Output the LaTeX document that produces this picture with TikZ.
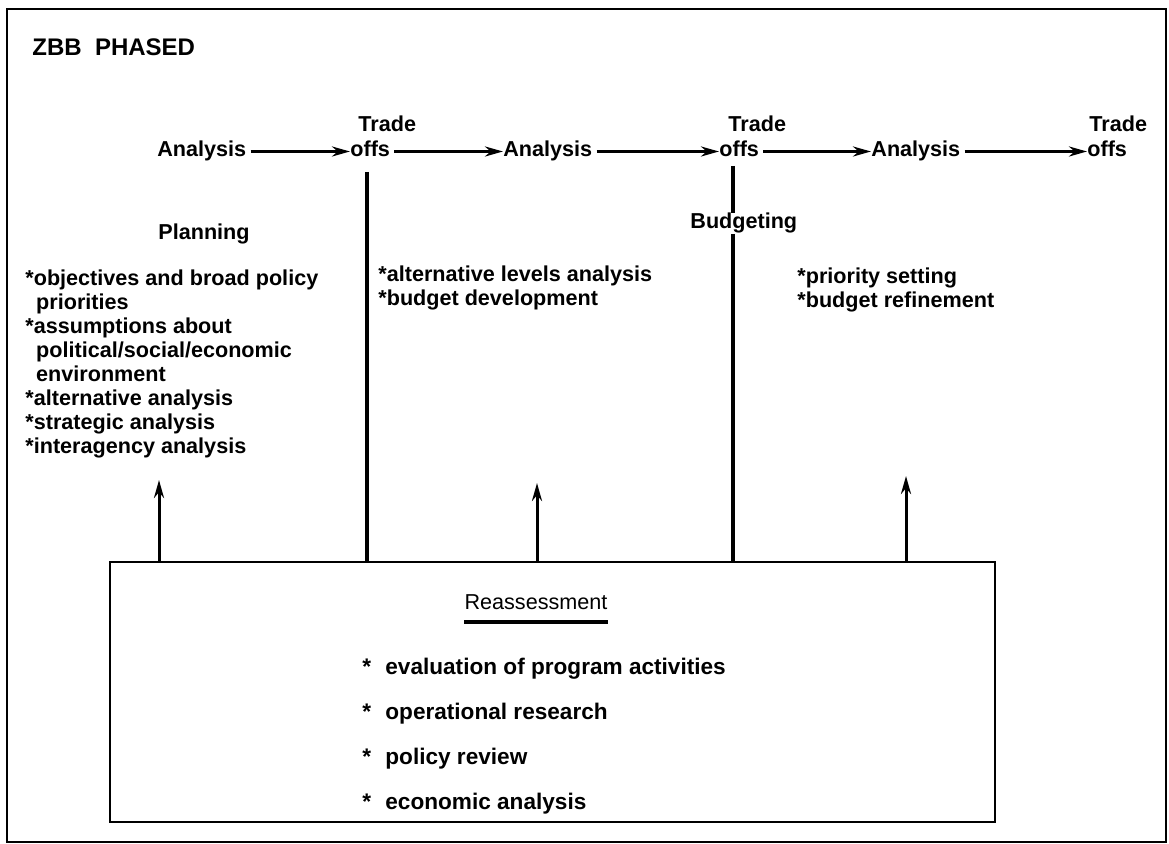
\documentclass[tikz,border=0pt]{standalone}
\usepackage{fontspec}
\setmainfont{Liberation Sans}
\usetikzlibrary{positioning,calc,arrows.meta}

\begin{document}
\begin{tikzpicture}[x=0.5pt,y=-0.5pt]
	\tikzstyle{every node}=[inner sep=0pt, font=\bfseries\fontsize{10.8}{12}\selectfont]
	\tikzstyle{rowtxt}=[anchor=base west, text height=8pt, text depth=2.5pt]
	\tikzstyle{lst}=[anchor=north west, align=left]
	\tikzstyle{flow}=[line width=1.5pt, -{Stealth[length=9pt,width=5pt]}]
	\tikzstyle{bar}=[line width=1.6pt]

	\useasboundingbox (0,0) rectangle (1169,844);
	\draw [line width=1.4pt] (7,9) rectangle (1166,842);

	\node [anchor=base west, font=\bfseries\fontsize{12}{14}\selectfont] (title) at (32,56) {ZBB\ \ PHASED};

	% top row
	\node [rowtxt] (ana1) at (157,157) {Analysis};
	\node [rowtxt] (off1) at (350,157) {offs};
	\node [rowtxt] (trd1) at (358,132) {Trade};
	\node [rowtxt] (ana2) at (503,157) {Analysis};
	\node [rowtxt] (off2) at (719,157) {offs};
	\node [rowtxt] (trd2) at (728,132) {Trade};
	\node [rowtxt] (ana3) at (871,157) {Analysis};
	\node [rowtxt] (off3) at (1087,157) {offs};
	\node [rowtxt] (trd3) at (1089,132) {Trade};

	\draw [flow, shorten <=2pt] (ana1) to (off1);
	\draw [flow, shorten <=2pt] (off1) to (ana2);
	\draw [flow, shorten <=2pt] (ana2) to (off2);
	\draw [flow, shorten <=2pt] (off2) to (ana3);
	\draw [flow, shorten <=2pt] (ana3) to (off3);

	% phases
	\node [anchor=base west] (plan) at (158,240) {Planning};
	\node [anchor=base west] (budg) at (690,229) {Budgeting};

	\node [lst] (planlst) at (25,269) {*objectives and broad policy\\
		\hspace*{0.5em}priorities\\
		*assumptions about\\
		\hspace*{0.5em}political/social/economic\\
		\hspace*{0.5em}environment\\
		*alternative analysis\\
		*strategic analysis\\
		*interagency analysis};
	\node [lst] (devlst) at (378,265) {*alternative levels analysis\\
		*budget development};
	\node [lst] (reflst) at (797,267) {*priority setting\\
		*budget refinement};

	% reassessment box
	\node [draw, line width=1.3pt, minimum width=442.5pt, minimum height=130pt] (box) at (552.5,692) {};
	\node [anchor=base, font=\fontsize{10.8}{12}\selectfont] (reas) at (536,610) {Reassessment};
	\draw [bar] ($(reas.base west)+(0,12)$) -- ($(reas.base east)+(0,12)$);
	\node [lst, font=\bfseries\fontsize{11.3}{22.5}\selectfont] (reaslst) at (362,658) {%
		\makebox[11.5pt][l]{*}evaluation of program activities\\
		\makebox[11.5pt][l]{*}operational research\\
		\makebox[11.5pt][l]{*}policy review\\
		\makebox[11.5pt][l]{*}economic analysis};

	% dividers
	\coordinate (d1) at (367,172);
	\coordinate (d2) at (733,166);
	\draw [bar] (d1) to (d1 |- box.north);
	\draw [bar] (d2) to (d2 |- budg.north);
	\draw [bar] (d2 |- budg.south) to (d2 |- box.north);

	% feedback arrows
	\coordinate (t1) at (159,480);
	\coordinate (t2) at (537,483);
	\coordinate (t3) at (906,476);
	\draw [flow] (t1 |- box.north) to (t1);
	\draw [flow] (t2 |- box.north) to (t2);
	\draw [flow] (t3 |- box.north) to (t3);
\end{tikzpicture}
\end{document}
